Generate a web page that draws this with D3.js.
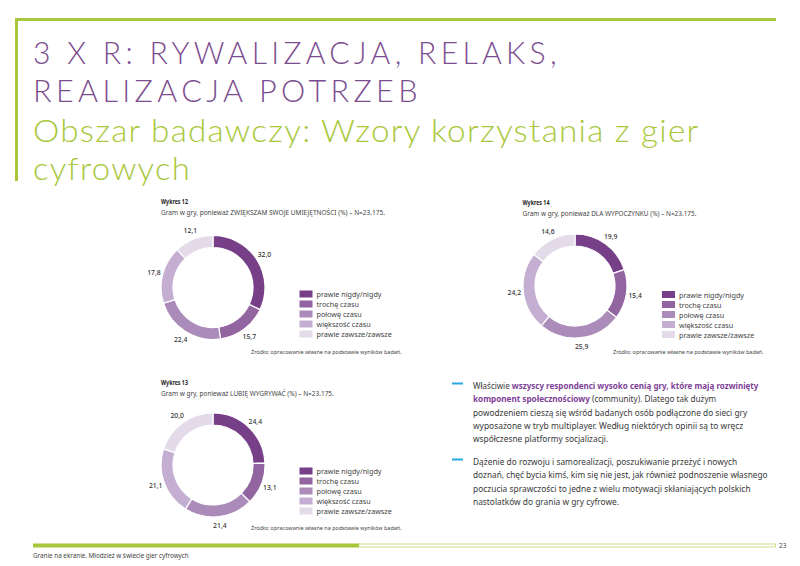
<!DOCTYPE html>
<html>
<head>
<meta charset="UTF-8">
<title>Wykresy 12-14</title>
<script src="https://d3js.org/d3.v7.min.js"></script>
<style>
body { margin: 0; background: #fff; }
svg text { font-family: "Noto Sans", "Open Sans", sans-serif; }
</style>
</head>
<body>
<svg id="page" width="800" height="566"></svg>
<script>
// dane
var categories = ["prawie nigdy/nigdy", "trochę czasu", "połowę czasu", "większość czasu", "prawie zawsze/zawsze"];
var values12 = [32.0, 15.7, 22.4, 17.8, 12.1];
var values13 = [24.4, 13.1, 21.4, 21.1, 20.0];
var values14 = [19.9, 15.4, 25.9, 24.2, 14.6];
var chartNames = ["Wykres 12", "Wykres 13", "Wykres 14"];
var chartSubs = [
  "Gram w gry, ponieważ ZWIĘKSZAM SWOJE UMIEJĘTNOŚCI (%) – N=23.175.",
  "Gram w gry, ponieważ LUBIĘ WYGRYWAĆ (%) – N=23.175.",
  "Gram w gry, ponieważ DLA WYPOCZYNKU (%) – N=23.175."
];
var source = "Źródło: opracowanie własne na podstawie wyników badań.";

var colors = ["#773f87", "#9265a1", "#aa8bb9", "#c4afd2", "#e3dbea"];
var green = "#a9c73a";
var purple = "#7b4d8e";

var svg = d3.select("#page");

// sciska tekst w poziomie do zadanej szerokosci
function fit(t, w) {
  var n = t.node().getComputedTextLength();
  var x = +t.attr("x"), y = +t.attr("y");
  t.attr("x", 0).attr("y", 0)
    .attr("transform", "translate(" + x + "," + y + ") scale(" + (w / n).toFixed(4) + ",1)");
  return t;
}

// ramka
svg.append("line").attr("x1", 15).attr("x2", 776).attr("y1", 19.5).attr("y2", 19.5)
  .attr("stroke", green).attr("stroke-width", 3);
svg.append("line").attr("x1", 16.5).attr("x2", 16.5).attr("y1", 18).attr("y2", 181)
  .attr("stroke", green).attr("stroke-width", 3);

// tytuly
var titleLines = [
  {t: "3 X R: RYWALIZACJA, RELAKS,", y: 64, w: 528, fs: 31.5, c: purple, ls: 4.5},
  {t: "REALIZACJA POTRZEB", y: 102, w: 389, fs: 31.5, c: purple, ls: 4.5},
  {t: "Obszar badawczy: Wzory korzystania z gier", y: 142, w: 667, fs: 32, c: green, ls: 1.2},
  {t: "cyfrowych", y: 180, w: 158, fs: 32, c: green, ls: 1.2}
];
titleLines.forEach(function(d) {
  var t = svg.append("text").text(d.t).attr("x", 33).attr("y", d.y)
    .attr("font-size", d.fs).attr("font-weight", 300).attr("fill", d.c)
    .attr("letter-spacing", d.ls)
    .style("font-family", "Lato, 'Open Sans', sans-serif");
  fit(t, d.w);
});

var pie = d3.pie().sort(null).value(function(d) { return d; });
var fmt = function(v) { return d3.format(".1f")(v).replace(".", ","); };

function drawDonut(cfg) {
  var g = svg.append("g");
  fit(g.append("text").text(cfg.name).attr("x", cfg.left).attr("y", cfg.titleY)
    .attr("font-size", 6.6).attr("font-weight", 700).attr("fill", "#222"), 27);
  fit(g.append("text").text(cfg.sub).attr("x", cfg.left).attr("y", cfg.titleY + 11)
    .attr("font-size", 6.6).attr("fill", "#444"), cfg.subW);

  var arc = d3.arc().innerRadius(40).outerRadius(52);
  var labelArc = d3.arc().innerRadius(61).outerRadius(61);
  var donut = g.append("g").attr("transform", "translate(" + cfg.cx + "," + cfg.cy + ")");
  var arcs = pie(cfg.values);
  donut.selectAll("path").data(arcs).enter().append("path")
    .attr("d", arc)
    .attr("fill", function(d, i) { return colors[i]; })
    .attr("stroke", "#fff").attr("stroke-width", 1.2);
  donut.selectAll("text").data(arcs).enter().append("text")
    .attr("x", function(d) { return labelArc.centroid(d)[0]; })
    .attr("y", function(d) { return labelArc.centroid(d)[1]; })
    .attr("text-anchor", "middle").attr("dominant-baseline", "central")
    .attr("font-size", 6.8).attr("font-weight", 500).attr("fill", "#333")
    .text(function(d) { return fmt(d.data); });

  // legenda
  var ly = d3.scaleBand().domain(categories).range([cfg.legY - 5, cfg.legY + 45]);
  var leg = g.append("g");
  categories.forEach(function(c, i) {
    leg.append("rect").attr("x", cfg.legX).attr("y", ly(c) + 1.5)
      .attr("width", 13).attr("height", 7).attr("fill", colors[i]);
    leg.append("text").text(c).attr("x", cfg.legX + 17).attr("y", ly(c) + 5)
      .attr("dominant-baseline", "central").attr("font-size", 7.2).attr("fill", "#444");
  });
  fit(g.append("text").text(source).attr("x", cfg.srcX).attr("y", cfg.srcY)
    .attr("font-size", 5.6).attr("fill", "#444"), 151);
}

drawDonut({name: chartNames[0], sub: chartSubs[0], subW: 224, values: values12, left: 161, titleY: 204,
  cx: 213, cy: 287.5, legX: 299.5, legY: 294, srcX: 251, srcY: 354});
drawDonut({name: chartNames[1], sub: chartSubs[1], subW: 173, values: values13, left: 161, titleY: 385,
  cx: 213, cy: 465, legX: 299.5, legY: 471, srcX: 251, srcY: 530});
drawDonut({name: chartNames[2], sub: chartSubs[2], subW: 174, values: values14, left: 522.5, titleY: 205,
  cx: 575, cy: 286, legX: 662, legY: 294.5, srcX: 613, srcY: 354});

// tekst po prawej
var paraColor = "#3a3a3a";
var hl = "#7d3f97";
var para = [
  [[{t: "Właściwie "}, {t: "wszyscy respondenci wysoko cenią gry, które mają rozwinięty", b: 1}], 758],
  [[{t: "komponent społecznościowy", b: 1}, {t: " (community). Dlatego tak dużym"}], 716],
  [[{t: "powodzeniem cieszą się wśród badanych osób podłączone do sieci gry"}], 747],
  [[{t: "wyposażone w tryb multiplayer. Według niektórych opinii są to wręcz"}], 743],
  [[{t: "współczesne platformy socjalizacji."}], 608],
  null,
  [[{t: "Dążenie do rozwoju i samorealizacji, poszukiwanie przeżyć i nowych"}], 737],
  [[{t: "doznań, chęć bycia kimś, kim się nie jest, jak również podnoszenie własnego"}], 767],
  [[{t: "poczucia sprawczości to jedne z wielu motywacji skłaniających polskich"}], 750],
  [[{t: "nastolatków do grania w gry cyfrowe."}], 619]
];
var lineY = [389, 402.3, 415.6, 428.9, 442.2, 0, 465, 478.3, 491.6, 504.9];
para.forEach(function(line, i) {
  if (!line) return;
  var txt = svg.append("text").attr("x", 473).attr("y", lineY[i])
    .attr("font-size", 9.4).attr("fill", paraColor);
  line[0].forEach(function(s) {
    var ts = txt.append("tspan").text(s.t);
    if (s.b) ts.attr("font-weight", 700).attr("fill", hl);
  });
  fit(txt, line[1] - 473);
});
[383.5, 459.5].forEach(function(y) {
  svg.append("line").attr("x1", 452).attr("x2", 463).attr("y1", y).attr("y2", y)
    .attr("stroke", "#2aa9e0").attr("stroke-width", 2);
});

// stopka
svg.append("rect").attr("x", 33.5).attr("y", 544).attr("width", 742).attr("height", 3)
  .attr("fill", "none").attr("stroke", green).attr("stroke-width", 0.6);
svg.append("rect").attr("x", 33).attr("y", 543.7).attr("width", 326).attr("height", 3.6).attr("fill", green);
svg.append("text").text("23").attr("x", 779).attr("y", 548).attr("font-size", 6.5).attr("fill", "#444");
fit(svg.append("text").text("Granie na ekranie. Młodzież w świecie gier cyfrowych").attr("x", 33).attr("y", 558)
  .attr("font-size", 6.6).attr("fill", "#444"), 156);
</script>
</body>
</html>
